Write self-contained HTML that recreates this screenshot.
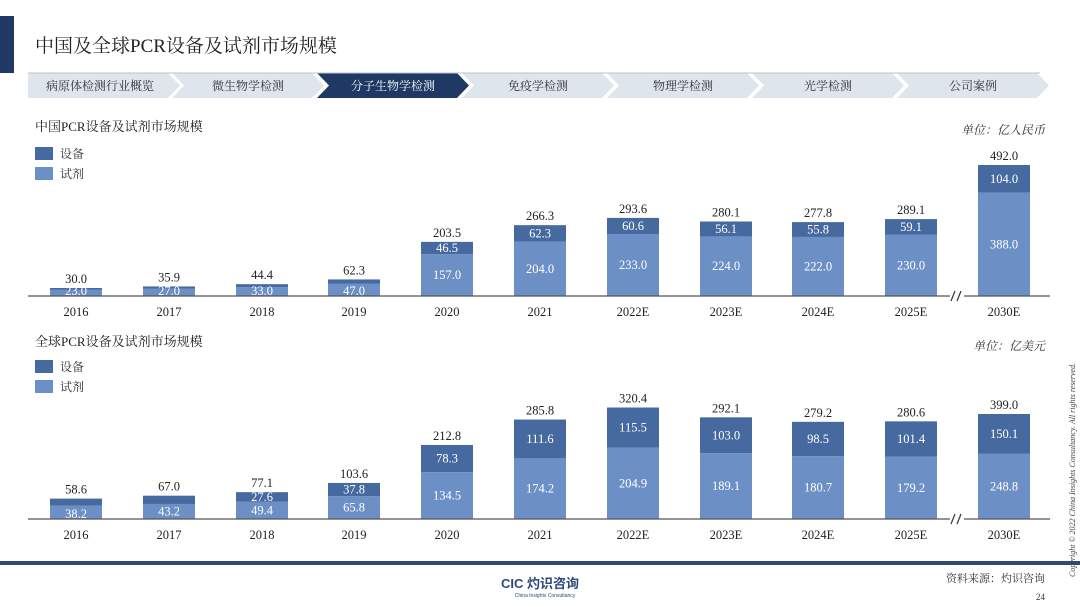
<!DOCTYPE html>
<html><head><meta charset="utf-8">
<style>
html,body{margin:0;padding:0;background:#fff;}
svg{display:block;font-family:"Liberation Serif","Noto Serif CJK SC",serif;}
</style></head>
<body>
<svg id="s" width="1080" height="607" viewBox="0 0 1080 607" xmlns="http://www.w3.org/2000/svg">
<rect x="0" y="16" width="14" height="57" fill="#1f3864"/>
<text x="35" y="52" font-size="19" fill="#222">中国及全球PCR设备及试剂市场规模</text>
<g id="nav"></g>
<text x="35" y="131" font-size="13" fill="#222">中国PCR设备及试剂市场规模</text>
<rect x="35" y="147" width="18" height="13" fill="#46699f"/><text x="60" y="158" font-size="12" fill="#333">设备</text>
<rect x="35" y="167" width="18" height="13" fill="#6c90c6"/><text x="60" y="178" font-size="12" fill="#333">试剂</text>
<text x="1045" y="134" font-size="12" fill="#333" text-anchor="end" font-style="italic">单位：亿人民币</text>
<text x="35" y="346" font-size="13" fill="#222">全球PCR设备及试剂市场规模</text>
<rect x="35" y="360" width="18" height="13" fill="#46699f"/><text x="60" y="371" font-size="12" fill="#333">设备</text>
<rect x="35" y="380" width="18" height="13" fill="#6c90c6"/><text x="60" y="391" font-size="12" fill="#333">试剂</text>
<text x="1045" y="350" font-size="12" fill="#333" text-anchor="end" font-style="italic">单位：亿美元</text>
<g id="charts"></g>
<text transform="translate(1075,577) rotate(-90)" font-size="8" font-style="italic" fill="#444">Copyright © 2022 China Insights Consultancy. All rights reserved.</text>
<rect x="0" y="561" width="1080" height="4" fill="#2d4a7c"/>
<text x="540" y="588" font-size="13" font-weight="bold" fill="#2d4a7c" text-anchor="middle" font-family="Liberation Sans, Noto Sans CJK SC, sans-serif">CIC 灼识咨询</text>
<text x="545" y="597" font-size="5" fill="#2d4a7c" text-anchor="middle" font-family="Liberation Sans, sans-serif">China Insights Consultancy</text>
<text x="1045" y="582" font-size="11" fill="#333" text-anchor="end">资料来源：灼识咨询</text>
<text x="1045" y="600" font-size="9" fill="#333" text-anchor="end">24</text>
</svg>
<script>
var NS="http://www.w3.org/2000/svg";
function el(p,t,a,txt){var e=document.createElementNS(NS,t);for(var k in a)e.setAttribute(k,a[k]);if(txt!=null)e.textContent=txt;p.appendChild(e);return e;}
var nav=document.getElementById('nav');
var labels=["病原体检测行业概览","微生物学检测","分子生物学检测","免疫学检测","物理学检测","光学检测","公司案例"];
var starts=[28,172,317,462,607,752,897];
for(var i=0;i<7;i++){var s=starts[i],w=140,d=12,y0=73,y1=98,ym=85.5;
var pts=s+","+y0+" "+(s+w)+","+y0+" "+(s+w+d)+","+ym+" "+(s+w)+","+y1+" "+s+","+y1+" "+(i==0?s:(s+d))+","+ym;
var act=i==2;
el(nav,"polygon",{points:pts,fill:act?"#1f3864":"#dfe5ed"});
el(nav,"text",{x:s+w/2+(i==0?2:6),y:90,"font-size":12,"text-anchor":"middle",fill:act?"#fff":"#333"},labels[i]);}
el(nav,"line",{x1:28,y1:73,x2:1040,y2:73,stroke:"#b8c2d0","stroke-width":1});
var cx=[76,169,262,354,447,540,633,726,818,911,1004];
var yrs=["2016","2017","2018","2019","2020","2021","2022E","2023E","2024E","2025E","2030E"];
var cnData=[[30.0,7.0,23.0],[35.9,8.9,27.0],[44.4,11.4,33.0],[62.3,15.3,47.0],[203.5,46.5,157.0],[266.3,62.3,204.0],[293.6,60.6,233.0],[280.1,56.1,224.0],[277.8,55.8,222.0],[289.1,59.1,230.0],[492.0,104.0,388.0]];
var glData=[[58.6,20.4,38.2],[67.0,23.8,43.2],[77.1,27.6,49.4],[103.6,37.8,65.8],[212.8,78.3,134.5],[285.8,111.6,174.2],[320.4,115.5,204.9],[292.1,103.0,189.1],[279.2,98.5,180.7],[280.6,101.4,179.2],[399.0,150.1,248.8]];
var g=document.getElementById('charts');
function chart(data,base,k,lastH,minEq){
 for(var i=0;i<data.length;i++){var d=data[i],kk=k;if(i==10)kk=lastH/d[0];
  var h=d[0]*kk,he=d[1]*kk,x=cx[i]-26,t=base-h;
  el(g,"rect",{x:x,y:base-(h-he),width:52,height:h-he,fill:"#6c90c6"});
  el(g,"rect",{x:x,y:t,width:52,height:he,fill:"#46699f"});
  el(g,"text",{x:cx[i],y:t-5,"font-size":12.5,"text-anchor":"middle",fill:"#222"},d[0].toFixed(1));
  var ry=base-(h-he)/2+4; if(h-he<14)ry=base-1;
  el(g,"text",{x:cx[i],y:ry,"font-size":12.5,"text-anchor":"middle",fill:"#fff"},d[2].toFixed(1));
  if(i>=minEq)el(g,"text",{x:cx[i],y:t+he/2+4,"font-size":12.5,"text-anchor":"middle",fill:"#fff"},d[1].toFixed(1));
  el(g,"text",{x:cx[i],y:base+20,"font-size":12.5,"text-anchor":"middle",fill:"#222"},yrs[i]);
 }
 el(g,"line",{x1:28,y1:base,x2:1050,y2:base,stroke:"#555","stroke-width":1.2});
 el(g,"rect",{x:950,y:base-2,width:14,height:4,fill:"#fff"});
 el(g,"line",{x1:951,y1:base+5,x2:955,y2:base-5,stroke:"#333","stroke-width":1.2});
 el(g,"line",{x1:957,y1:base+5,x2:961,y2:base-5,stroke:"#333","stroke-width":1.2});
}
chart(cnData,296,0.266,131,4);
chart(glData,519,0.348,105,2);
</script>
</body></html>
